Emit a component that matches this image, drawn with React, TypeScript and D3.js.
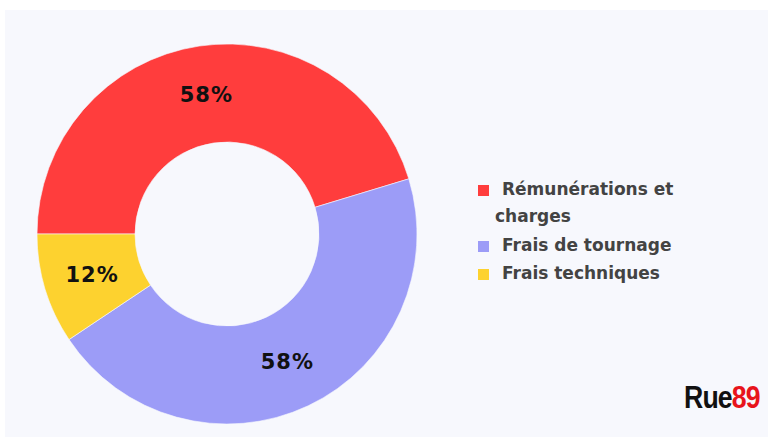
import React, { useEffect, useRef } from "react";
import * as d3 from "d3";

const categories = ["Rémunérations et charges", "Frais de tournage", "Frais techniques"];
const values = [58, 58, 12];
const labels = ["58%", "58%", "12%"];
const colors = ["#ff3d3d", "#9c9cf7", "#fdd22f"];
const legendLines = [["Rémunérations et", "charges"], ["Frais de tournage"], ["Frais techniques"]];

interface Slice {
  name: string;
  value: number;
  label: string;
  color: string;
}

export default function App() {
  const svgRef = useRef<SVGSVGElement>(null);
  const width = 768;
  const height = 437;

  useEffect(() => {
    if (!svgRef.current) return;
    document.body.style.margin = "0";

    const data: Slice[] = categories.map((name, i) => ({
      name,
      value: values[i],
      label: labels[i],
      color: colors[i],
    }));

    const svg = d3.select(svgRef.current);
    svg.selectAll("*").remove();

    // page background
    svg.append("rect").attr("width", width).attr("height", height).attr("fill", "#ffffff");
    svg
      .append("rect")
      .attr("x", 5)
      .attr("y", 10)
      .attr("width", width - 5)
      .attr("height", height - 10)
      .attr("fill", "#f7f8fd");

    const cx = 227;
    const cy = 234;
    const outer = 190;
    const inner = 92;

    const pie = d3
      .pie<Slice>()
      .value((d) => d.value)
      .sort(null)
      .startAngle(-Math.PI / 2)
      .endAngle((3 * Math.PI) / 2);

    const arc = d3.arc<d3.PieArcDatum<Slice>>().innerRadius(inner).outerRadius(outer);

    const g = svg.append("g").attr("transform", `translate(${cx},${cy})`);

    g.selectAll("path")
      .data(pie(data))
      .join("path")
      .attr("d", arc)
      .attr("fill", (d) => d.data.color)
      .attr("stroke", "#f7f8fd")
      .attr("stroke-width", 0.6);

    g.selectAll("text.lbl")
      .data(pie(data))
      .join("text")
      .attr("class", "lbl")
      .attr("transform", (d) => {
        const [x, y] = arc.centroid(d);
        return `translate(${x},${y})`;
      })
      .attr("text-anchor", "middle")
      .attr("dy", "0.36em")
      .attr("font-family", "'DejaVu Sans', sans-serif")
      .attr("font-weight", "bold")
      .attr("font-size", 21)
      .attr("letter-spacing", 1)
      .attr("fill", "#111111")
      .text((d) => d.data.label);

    // legend
    const legend = svg.append("g").attr("transform", "translate(478,0)");
    const baselines = [195, 251, 279];
    data.forEach((d, i) => {
      const row = legend.append("g");
      row
        .append("rect")
        .attr("x", 0)
        .attr("y", baselines[i] - 10)
        .attr("width", 11)
        .attr("height", 11)
        .attr("fill", d.color);
      legendLines[i].forEach((line, j) => {
        row
          .append("text")
          .attr("x", j === 0 ? 24 : 17)
          .attr("y", baselines[i] + j * 27)
          .attr("font-family", "'DejaVu Sans', Verdana, sans-serif")
          .attr("font-weight", "bold")
          .attr("font-size", 17)
          .attr("fill", "#434343")
          .text(line);
      });
    });

    // logo, condensed by a horizontal scale
    const logo = svg
      .append("text")
      .attr("transform", "translate(684,408) scale(0.86,1)")
      .attr("font-family", "'Liberation Sans', Arial, sans-serif")
      .attr("font-weight", "bold")
      .attr("font-size", 31)
      .attr("letter-spacing", -1);
    logo.append("tspan").attr("fill", "#111111").text("Rue");
    logo.append("tspan").attr("fill", "#e8141c").text("89");
  }, []);

  return (
    <svg
      ref={svgRef}
      width={width}
      height={height}
      style={{ position: "absolute", left: 0, top: 0, display: "block" }}
    />
  );
}
